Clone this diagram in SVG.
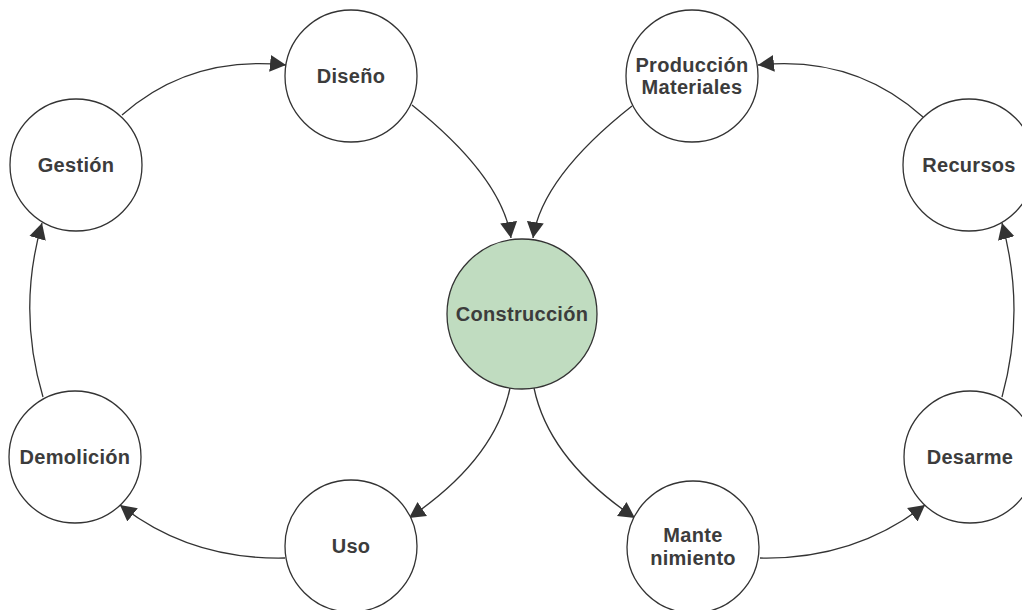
<svg xmlns="http://www.w3.org/2000/svg" width="1022" height="610" viewBox="0 0 1022 610">
<defs>
<marker id="arr" markerUnits="userSpaceOnUse" markerWidth="18" markerHeight="18" refX="16" refY="9" orient="auto">
<path d="M0,0.5 L16,9 L0,17.5 z" fill="#333"/>
</marker>
<style>
.n{fill:#fff;stroke:#333;stroke-width:1.3}
.c{fill:#c0dcc0}
.t{font-family:"Liberation Sans",Arial,sans-serif;font-size:20px;font-weight:bold;fill:#3c3c3c;text-anchor:middle;letter-spacing:0.3px}
.e{fill:none;stroke:#333;stroke-width:1.3;marker-end:url(#arr)}
</style>
</defs>
<rect width="1022" height="610" fill="#fff"/>
<g id="connectors">
<path class="e" d="M122,115 Q190,55 286,65"/>
<path class="e" d="M412,105 Q502,177 511,238"/>
<path class="e" d="M632,106 Q542,177 533,238"/>
<path class="e" d="M923,117 Q854,55 758,65"/>
<path class="e" d="M1002,397 Q1026,310 1002,223"/>
<path class="e" d="M760,558 Q854,560 925,505"/>
<path class="e" d="M534,388 Q549,460 635,518"/>
<path class="e" d="M510,388 Q495,460 409,518"/>
<path class="e" d="M285,558 Q190,560 120,505"/>
<path class="e" d="M43,397 Q17,310 42,223"/>
</g>
<g id="diseno"><circle class="n" cx="351" cy="76" r="66"/><text class="t" x="351" y="83">Diseño</text></g>
<g id="produccion"><circle class="n" cx="692" cy="76" r="66"/><text class="t" x="692" y="72">Producción</text><text class="t" x="692" y="94">Materiales</text></g>
<g id="gestion"><circle class="n" cx="76" cy="165" r="66"/><text class="t" x="76" y="172">Gestión</text></g>
<g id="recursos"><circle class="n" cx="969" cy="165" r="66"/><text class="t" x="969" y="172">Recursos</text></g>
<g id="construccion"><circle class="n c" cx="522" cy="314" r="75"/><text class="t" x="522" y="321">Construcción</text></g>
<g id="demolicion"><circle class="n" cx="75" cy="457" r="66"/><text class="t" x="75" y="464">Demolición</text></g>
<g id="desarme"><circle class="n" cx="970" cy="457" r="66"/><text class="t" x="970" y="464">Desarme</text></g>
<g id="uso"><circle class="n" cx="351" cy="546" r="66"/><text class="t" x="351" y="553">Uso</text></g>
<g id="mantenimiento"><circle class="n" cx="693" cy="547" r="66"/><text class="t" x="693" y="542">Mante</text><text class="t" x="693" y="565">nimiento</text></g>
</svg>
